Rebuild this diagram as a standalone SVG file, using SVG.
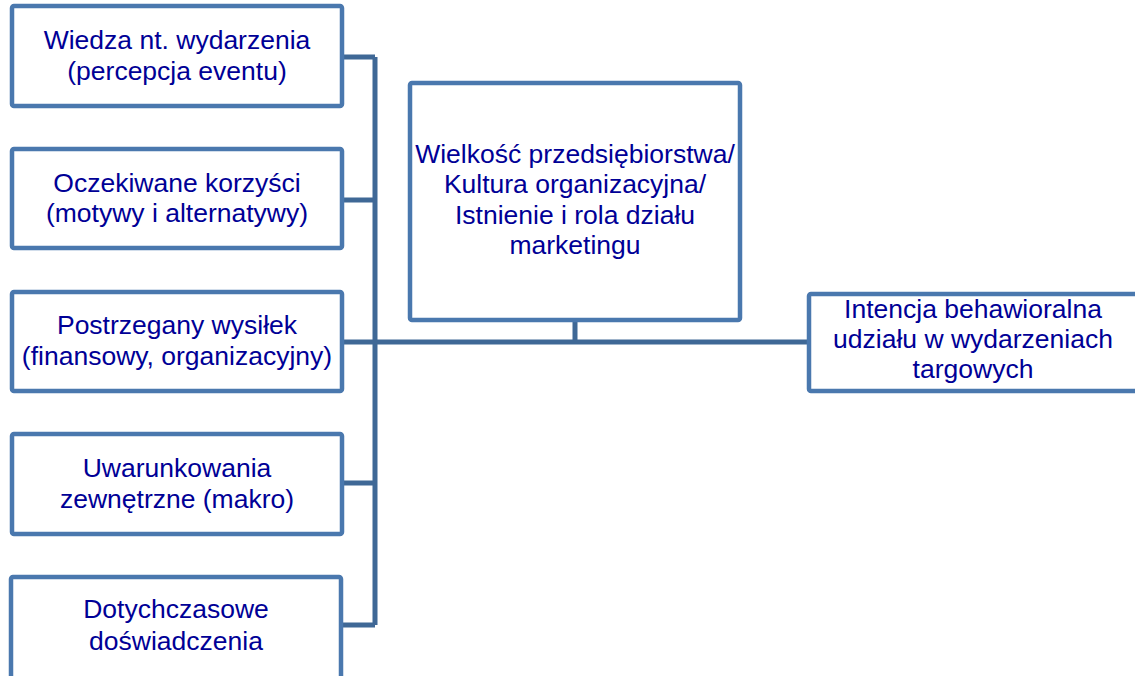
<svg xmlns="http://www.w3.org/2000/svg" width="1135" height="676" viewBox="0 0 1135 676">
<style>
.box{fill:#fff;stroke:#4A78AE;stroke-width:4.5}
.con{stroke:#3F6896;stroke-width:5;fill:none}
text{font-family:"Liberation Sans",Arial,sans-serif;font-size:26.5px;fill:#000096;text-anchor:middle}
</style>
<rect width="1135" height="676" fill="#fff"/>
<g id="connectors">
<path class="con" d="M344 57H375M344 200H375M344 342H375M344 483H375M343 625H375M375 57V625M375 342H808M575 322V342"/>
</g>
<g id="n1"><rect class="box" x="12" y="6" width="330" height="100" rx="2"/>
<text x="177" y="49">Wiedza nt. wydarzenia</text><text x="177" y="80">(percepcja eventu)</text></g>
<g id="n2"><rect class="box" x="12" y="149" width="330" height="99" rx="2"/>
<text x="177" y="192">Oczekiwane korzyści</text><text x="177" y="222">(motywy i alternatywy)</text></g>
<g id="n3"><rect class="box" x="12" y="292" width="330" height="99" rx="2"/>
<text x="177" y="334">Postrzegany wysiłek</text><text x="177" y="365">(finansowy, organizacyjny)</text></g>
<g id="n4"><rect class="box" x="12" y="434" width="330" height="100" rx="2"/>
<text x="177" y="477">Uwarunkowania</text><text x="177" y="508">zewnętrzne (makro)</text></g>
<g id="n5"><rect class="box" x="11" y="577" width="330" height="110" rx="2"/>
<text x="176" y="618">Dotychczasowe</text><text x="176" y="650">doświadczenia</text></g>
<g id="n6"><rect class="box" x="410" y="83" width="330" height="237" rx="2"/>
<text x="575" y="163">Wielkość przedsiębiorstwa/</text><text x="575" y="193">Kultura organizacyjna/</text><text x="575" y="224">Istnienie i rola działu</text><text x="575" y="254">marketingu</text></g>
<g id="n7"><rect class="box" x="809" y="294" width="340" height="97" rx="2"/>
<text x="973" y="318">Intencja behawioralna</text><text x="973" y="348">udziału w wydarzeniach</text><text x="973" y="378">targowych</text></g>
</svg>
